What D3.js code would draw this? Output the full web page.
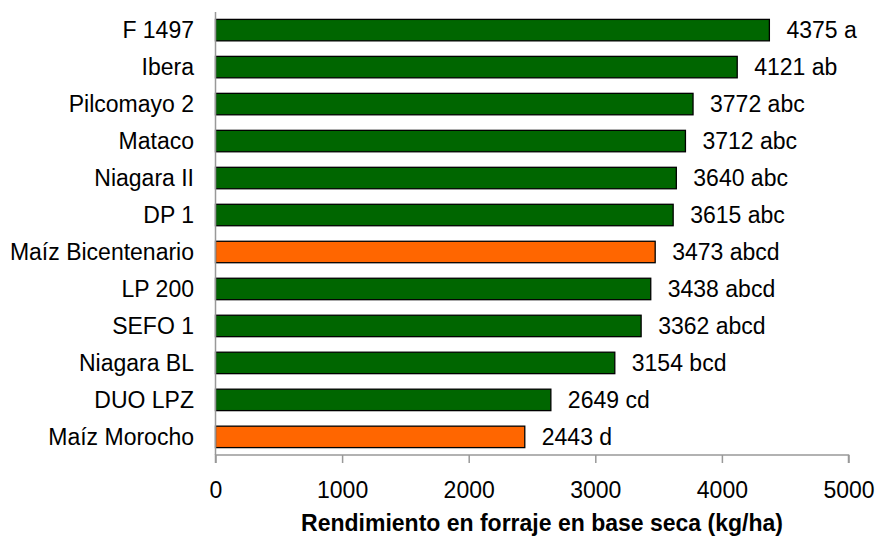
<!DOCTYPE html>
<html><head><meta charset="utf-8">
<script src="https://cdn.jsdelivr.net/npm/d3@7"></script>
<style>body{margin:0;background:#fff}svg{display:block}text{font-family:"Liberation Sans",Arial,sans-serif}</style>
</head><body>
<svg id="c" width="879" height="538"></svg>
<script>
const categories = ["F 1497","Ibera","Pilcomayo 2","Mataco","Niagara II","DP 1","Maíz Bicentenario","LP 200","SEFO 1","Niagara BL","DUO LPZ","Maíz Morocho"];
const values = [4375,4121,3772,3712,3640,3615,3473,3438,3362,3154,2649,2443];
const letters = ["a","ab","abc","abc","abc","abc","abcd","abcd","abcd","bcd","cd","d"];
const kinds = ["g","g","g","g","g","g","m","g","g","g","g","m"];
const xTicks = [0,1000,2000,3000,4000,5000];
const xTitle = "Rendimiento en forraje en base seca (kg/ha)";

const svg = d3.select("#c");
const x = d3.scaleLinear().domain([0,5000]).range([215.5,848.5]);
const y = d3.scaleBand().domain(categories).range([12,455]).paddingInner(0.42).paddingOuter(0.2);
const color = {g:"#006600", m:"#FF6600"};
const FS = 23;

svg.append("g").selectAll("rect").data(categories).join("rect")
  .attr("x", x(0)).attr("y", d=>y(d))
  .attr("width", (d,i)=>x(values[i])-x(0)).attr("height", y.bandwidth())
  .attr("fill", (d,i)=>color[kinds[i]]).attr("stroke","#000").attr("stroke-width",1.3);

// y axis line
svg.append("line").attr("x1",x(0)).attr("x2",x(0)).attr("y1",12).attr("y2",455).attr("stroke","#999").attr("stroke-width",1.5);
// x axis
const xa = svg.append("g").attr("transform","translate(0,455)")
  .call(d3.axisBottom(x).tickValues(xTicks).tickSize(8).tickPadding(19).tickFormat(d3.format("d")));
xa.select(".domain").attr("stroke","#999").attr("stroke-width",1.5).attr("d",`M${x(0)},8V0H${x(5000)}V8`);
xa.selectAll(".tick line").attr("stroke","#999").attr("stroke-width",1.5);
xa.selectAll(".tick text").attr("font-size",FS).attr("fill","#000").attr("font-family","Liberation Sans, Arial, sans-serif");

// category labels
svg.append("g").selectAll("text").data(categories).join("text")
  .attr("x",194).attr("y",d=>y(d)+y.bandwidth()/2).attr("dy","0.35em")
  .attr("text-anchor","end").attr("font-size",FS).attr("fill","#000").text(d=>d);

// value labels
svg.append("g").selectAll("text").data(categories).join("text")
  .attr("x",(d,i)=>x(values[i])+17).attr("y",d=>y(d)+y.bandwidth()/2).attr("dy","0.35em")
  .attr("font-size",FS).attr("fill","#000")
  .text((d,i)=>values[i]+" "+letters[i]);

svg.append("text").attr("x",542).attr("y",531).attr("text-anchor","middle")
  .attr("font-size",FS).attr("font-weight","bold").attr("fill","#000").text(xTitle);
</script>
</body></html>
